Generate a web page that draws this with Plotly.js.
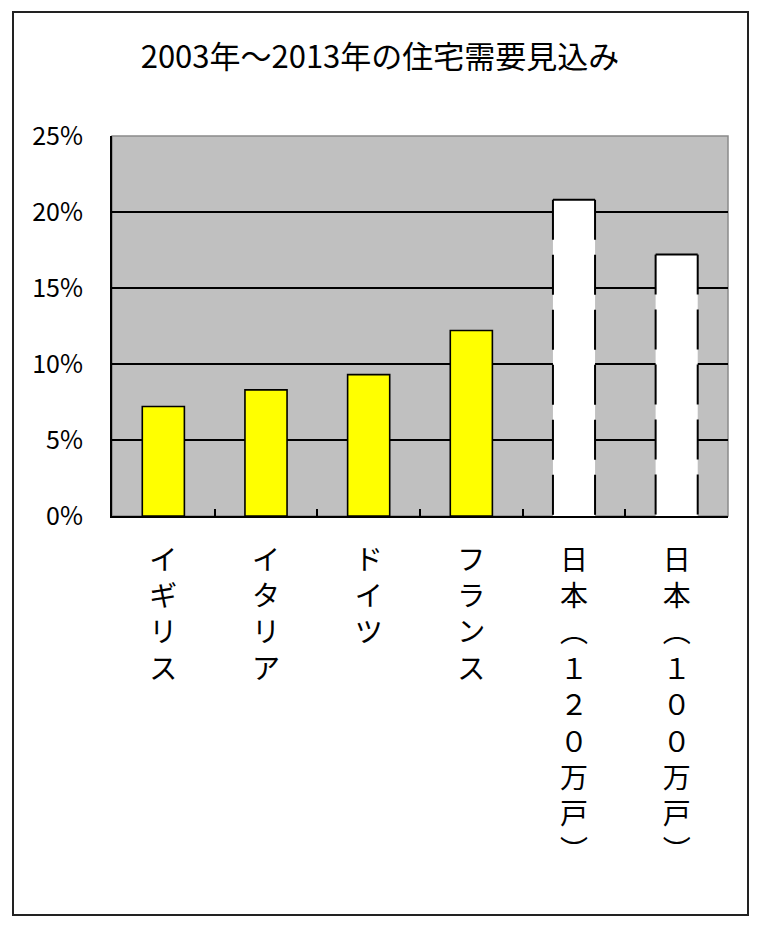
<!DOCTYPE html>
<html>
<head>
<meta charset="utf-8">
<script src="https://cdn.plot.ly/plotly-3.0.1.min.js"></script>
<style>
  html, body { margin: 0; padding: 0; background: #ffffff; }
  #chart { width: 760px; height: 929px; }
</style>
</head>
<body>
<div id="chart"></div>
<script>
// ---- Data ----
const titleText = '2003年～2013年の住宅需要見込み';
const categories = ['イギリス', 'イタリア', 'ドイツ', 'フランス', '日本（１２０万戸）', '日本（１００万戸）'];
const values = [7.2, 8.3, 9.3, 12.2, 20.8, 17.2];
const projected = [false, false, false, false, true, true];
const yTicks = [0, 5, 10, 15, 20, 25];
const yTickLabels = ['0%', '5%', '10%', '15%', '20%', '25%'];

// ---- Styling / layout constants ----
const W = 760, H = 929;
const plotL = 112, plotR = 728, plotT = 136, plotB = 516;
const bargap = 0.59;
const halfW = (1 - bargap) / 2;
const fontJP = '"Noto Sans CJK JP", "Noto Sans", sans-serif';

// vertical tick text: one character per line, with vertical bracket forms
const vMap = { '（': '︵', '）': '︶' };
const tickText = categories.map(c => Array.from(c).map(ch => vMap[ch] || ch).join('<br>'));

const barTrace = {
  type: 'bar',
  x: categories,
  y: values,
  marker: {
    color: projected.map(p => p ? '#ffffff' : '#ffff00'),
    line: { color: '#000000', width: projected.map(p => p ? 0 : 1.6) }
  },
  hoverinfo: 'x+y',
  showlegend: false
};

// dashed outlines for projected (Japan) bars, placed via numeric overlay axis
const sideX = [], sideY = [], topX = [], topY = [];
values.forEach((v, i) => {
  if (!projected[i]) return;
  sideX.push(i - halfW, i - halfW, null, i + halfW, i + halfW, null);
  sideY.push(v, 0, null, v, 0, null);
  topX.push(i - halfW, i + halfW, null);
  topY.push(v, v, null);
});

const sideTrace = {
  type: 'scatter', mode: 'lines', xaxis: 'x2', yaxis: 'y',
  x: sideX, y: sideY,
  line: { color: '#000000', width: 2, dash: '40px,15px' },
  hoverinfo: 'skip', showlegend: false, cliponaxis: false
};
const topTrace = {
  type: 'scatter', mode: 'lines', xaxis: 'x2', yaxis: 'y',
  x: topX, y: topY,
  line: { color: '#000000', width: 2 },
  hoverinfo: 'skip', showlegend: false, cliponaxis: false
};

const pw = plotR - plotL, ph = plotB - plotT;
const px = p => (p - plotL) / pw;
const py = p => (plotB - p) / ph;

const layout = {
  width: W, height: H,
  margin: { l: plotL, r: W - plotR, t: plotT, b: H - plotB, pad: 0 },
  paper_bgcolor: '#ffffff',
  plot_bgcolor: '#c0c0c0',
  font: { family: fontJP, color: '#000000', size: 24 },
  title: {
    text: titleText,
    font: { family: fontJP, size: 31, color: '#000000' },
    x: 0.5, xref: 'container', xanchor: 'center',
    y: 1 - 57 / H, yref: 'container', yanchor: 'middle'
  },
  bargap: bargap,
  xaxis: {
    type: 'category',
    range: [-0.5, categories.length - 0.5],
    tickmode: 'array',
    tickvals: categories,
    ticktext: tickText,
    tickson: 'boundaries',
    ticks: 'inside', ticklen: 7, tickwidth: 2, tickcolor: '#000000',
    showline: true, linecolor: '#000000', linewidth: 2,
    showgrid: false, zeroline: false,
    tickfont: { family: fontJP, size: 28, color: '#000000' },
    tickangle: 0,
    ticklabelstandoff: 18,
    fixedrange: true
  },
  xaxis2: {
    overlaying: 'x',
    range: [-0.5, categories.length - 0.5],
    visible: false,
    fixedrange: true
  },
  yaxis: {
    range: [0, 25],
    tickmode: 'array',
    tickvals: yTicks,
    ticktext: yTickLabels,
    ticks: 'inside', ticklen: 9, tickwidth: 2, tickcolor: '#000000',
    showline: true, linecolor: '#000000', linewidth: 2,
    showgrid: true, gridcolor: '#000000', gridwidth: 1.6,
    zeroline: false,
    tickfont: { family: fontJP, size: 25, color: '#000000' },
    ticklabelstandoff: 22,
    fixedrange: true
  },
  shapes: [
    // light plot-area border (top / right)
    { type: 'rect', xref: 'paper', yref: 'paper', x0: 0, x1: 1, y0: 0, y1: 1,
      line: { color: '#8a8a8a', width: 1.5 }, fillcolor: 'rgba(0,0,0,0)', layer: 'below' },
    // outer chart frame
    { type: 'rect', xref: 'paper', yref: 'paper',
      x0: px(13), x1: px(748), y0: py(915), y1: py(12),
      line: { color: '#222222', width: 2 }, fillcolor: 'rgba(0,0,0,0)' }
  ]
};

Plotly.newPlot('chart', [barTrace, sideTrace, topTrace], layout, { displayModeBar: false, staticPlot: true });
</script>
</body>
</html>
